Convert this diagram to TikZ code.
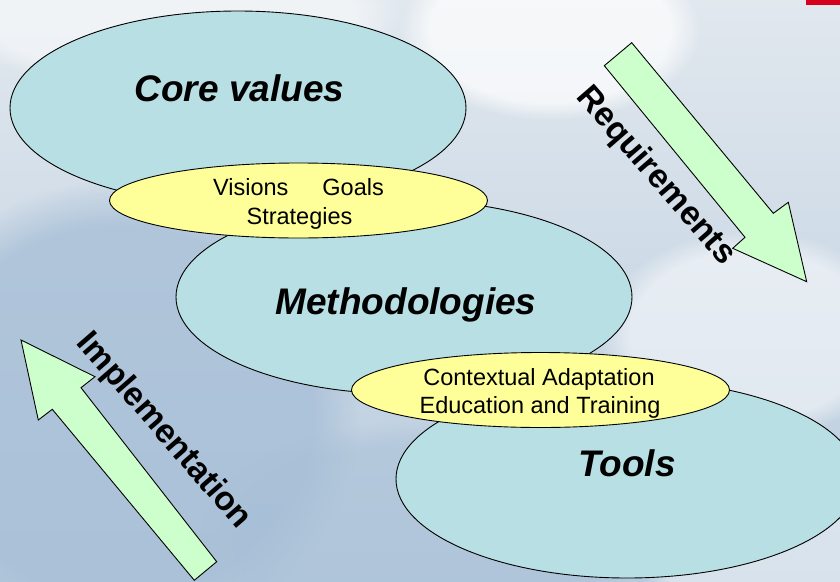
\documentclass[tikz,border=0pt]{standalone}
\usepackage{fontspec}
\setmainfont{Liberation Sans}
\usetikzlibrary{shapes.geometric,fadings}

\definecolor{skytop}{HTML}{E1E8EE}
\definecolor{skybottom}{HTML}{B8CBDE}
\definecolor{skyblue}{HTML}{A6BED6}
\definecolor{ovalfill}{HTML}{B8DFE3}
\definecolor{tagfill}{HTML}{FFFF99}
\definecolor{arrowfill}{HTML}{CCFFCC}
\definecolor{cornerred}{HTML}{D6001C}

\tikzset{
  bigoval/.style={ellipse, draw=black, line width=0.9pt, fill=ovalfill,
    inner sep=0pt, minimum width=456pt, minimum height=194pt},
  tagoval/.style={ellipse, draw=black, line width=0.9pt, fill=tagfill,
    inner sep=0pt, minimum width=378pt, minimum height=75pt},
  titletext/.style={inner sep=0pt, anchor=base,
    font=\fontsize{37}{40}\selectfont\bfseries\itshape},
  tagtext/.style={inner sep=0pt, anchor=base,
    font=\fontsize{23.5}{28.5}\selectfont},
  flowtext/.style={inner sep=0pt, anchor=base, rotate=-49,
    font=\fontsize{33.5}{37}\selectfont\bfseries},
  flowarrow/.style={draw=black, line width=0.9pt, fill=arrowfill, line join=miter},
  snow/.style={white, path fading=circle with fuzzy edge 20 percent}
}

\begin{document}
\begin{tikzpicture}[x=1pt, y=-1pt]
\useasboundingbox (0,0) rectangle (840,581);

% snowy backdrop
\begin{scope}
  \clip (0,0) rectangle (840,581);
  \shade[top color=skytop, bottom color=skybottom] (0,0) rectangle (840,581);
  \fill[skyblue, opacity=0.75, path fading=circle with fuzzy edge 20 percent]
    (-120,180) rectangle (360,640);
  \fill[skyblue, opacity=0.45, path fading=circle with fuzzy edge 20 percent]
    (200,420) rectangle (640,660);
  \fill[snow, opacity=0.7] (400,-60) rectangle (700,120);
  \fill[snow, opacity=0.5] (600,230) rectangle (900,440);
  \fill[snow, opacity=0.5] (-60,-60) rectangle (400,90);
  \fill[snow, opacity=0.45] (640,480) rectangle (900,640);
  \fill[cornerred] (806,0) rectangle (840,5);
\end{scope}

% main layers
\node[bigoval] (core)  at (238,108) {};
\node[bigoval] (meth)  at (404,297) {};
\begin{scope}
  \clip (0,0) rectangle (840,581);
  \node[bigoval, minimum width=462pt, minimum height=198pt] (tools) at (627,479) {};
\end{scope}

% linking ovals
\node[tagoval] (vgs) at (298.5,200.5) {};
\node[tagoval] (cae) at (540.5,390) {};

% labels
\node[titletext] (coret)  at (239.5,101.7) {Core values};
\node[titletext] (metht)  at (406,314) {Methodologies};
\node[titletext] (toolst) at (627,476) {Tools};

\node[tagtext] (vgs1) at (298.5,195.7) {Visions\hspace{34pt}Goals};
\node[tagtext] (vgs2) at (299.5,224.3) {Strategies};
\node[tagtext] (cae1) at (539,385) {Contextual Adaptation};
\node[tagtext] (cae2) at (540,413.3) {Education and Training};

% direction arrows
\coordinate (rqA) at (604.3,65.7);
\coordinate (rqB) at (745,237.3);
\coordinate (rqC) at (732.7,248.3);
\coordinate (rqTip) at (806.7,281.7);
\coordinate (rqD) at (788.3,202.3);
\coordinate (rqE) at (773.3,213.3);
\coordinate (rqF) at (631.7,42.7);
\draw[flowarrow] (rqA) -- (rqB) -- (rqC) -- (rqTip) -- (rqD) -- (rqE) -- (rqF) -- cycle;

\coordinate (imTip) at (21,340);
\coordinate (imA) at (38.3,420);
\coordinate (imB) at (52.3,409.3);
\coordinate (imC) at (194.3,580.3);
\coordinate (imD) at (216.7,561.7);
\coordinate (imE) at (81,387.7);
\coordinate (imF) at (95,376.7);
\draw[flowarrow] (imTip) -- (imA) -- (imB) -- (imC) -- (imD) -- (imE) -- (imF) -- cycle;

\node[flowtext] (reqt) at (649,182) {Requirements};
\node[flowtext] (impt) at (157,437) {Implementation};

\end{tikzpicture}
\end{document}
